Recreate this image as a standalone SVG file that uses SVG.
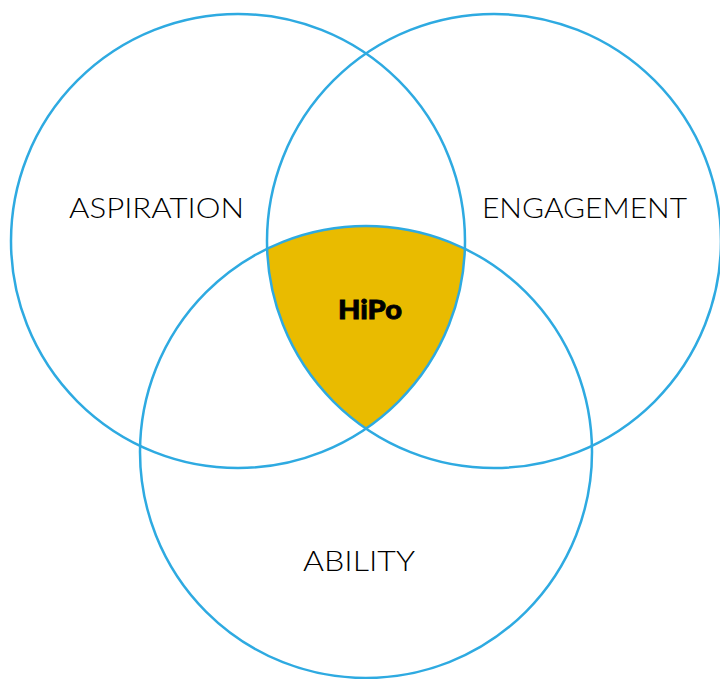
<svg xmlns="http://www.w3.org/2000/svg" width="720" height="679" viewBox="0 0 720 679">
<style>
.c{fill:none;stroke:#2eaae1;stroke-width:2.5}
.lbl{font-family:Lato,"Open Sans","Liberation Sans",sans-serif;font-weight:300;font-size:27px;fill:#000}
.hipo{font-family:Lato,"Open Sans","Liberation Sans",sans-serif;font-weight:900;font-size:26px;fill:#000;stroke:#000;stroke-width:0.8}
</style>
<rect width="720" height="679" fill="#fff"/>
<g id="hipo-region">
<path d="M267.1 248.8 A226 226 0 0 1 464.9 248.8 A227 227 0 0 1 366 428.5 A227 227 0 0 1 267.1 248.8 Z" fill="#e9bb00"/>
</g>
<g id="connectors">
<circle id="aspiration" class="c" cx="238" cy="241" r="227"/>
<circle id="engagement" class="c" cx="494" cy="241" r="227"/>
<circle id="ability" class="c" cx="366" cy="452" r="226"/>
</g>
<g id="labels">
<text class="lbl" x="156.5" y="218" text-anchor="middle" textLength="175" lengthAdjust="spacingAndGlyphs">ASPIRATION</text>
<text class="lbl" x="584.5" y="218" text-anchor="middle" textLength="205" lengthAdjust="spacingAndGlyphs">ENGAGEMENT</text>
<text class="lbl" x="359" y="571" text-anchor="middle" textLength="112" lengthAdjust="spacingAndGlyphs">ABILITY</text>
<text class="hipo" x="370" y="319" text-anchor="middle" textLength="64" lengthAdjust="spacingAndGlyphs">HiPo</text>
</g>
</svg>
